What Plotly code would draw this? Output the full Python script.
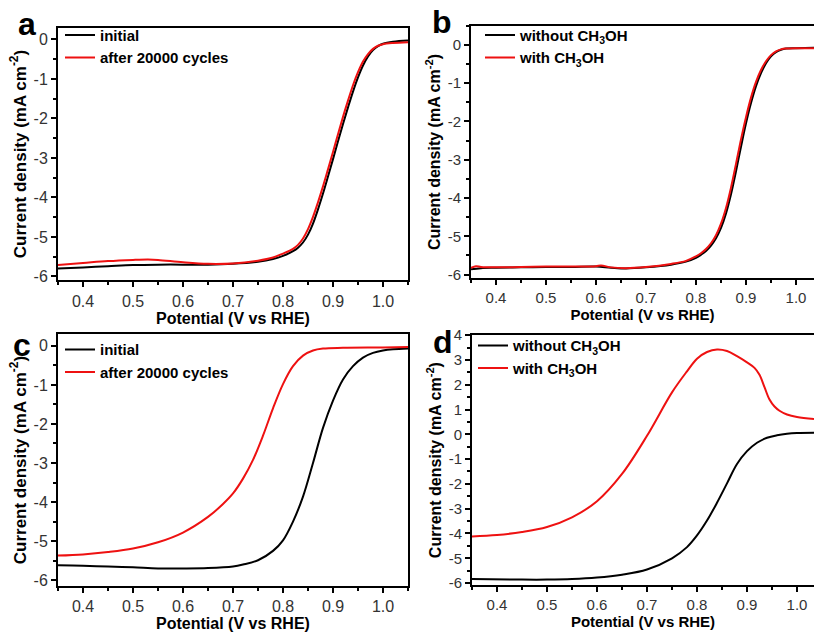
import plotly.graph_objects as go

# ---------------- data ----------------
# panel a
a_init_x = [0.35,0.40,0.45,0.50,0.55,0.60,0.65,0.70,0.75,0.78,0.80,0.82,0.83,0.84,0.85,0.86,0.87,0.88,0.89,0.90,0.91,0.92,0.93,0.94,0.95,0.96,0.97,0.98,0.99,1.00,1.02,1.05]
a_init_y = [-5.80,-5.77,-5.74,-5.71,-5.70,-5.70,-5.70,-5.68,-5.63,-5.56,-5.48,-5.36,-5.27,-5.14,-4.94,-4.66,-4.30,-3.90,-3.47,-3.03,-2.58,-2.14,-1.72,-1.32,-0.96,-0.66,-0.43,-0.27,-0.17,-0.11,-0.06,-0.03]
a_cyc_x = [0.35,0.40,0.45,0.50,0.53,0.55,0.60,0.65,0.70,0.75,0.78,0.80,0.82,0.83,0.84,0.85,0.86,0.87,0.88,0.89,0.90,0.91,0.92,0.93,0.94,0.95,0.96,0.97,0.98,0.99,1.00,1.02,1.05]
a_cyc_y = [-5.71,-5.66,-5.61,-5.58,-5.57,-5.58,-5.64,-5.68,-5.67,-5.60,-5.52,-5.42,-5.30,-5.20,-5.04,-4.80,-4.49,-4.12,-3.72,-3.29,-2.85,-2.40,-1.96,-1.55,-1.16,-0.83,-0.56,-0.37,-0.24,-0.16,-0.12,-0.09,-0.07]

# panel b
b_wo_x = [0.35,0.37,0.40,0.45,0.50,0.55,0.60,0.63,0.66,0.70,0.75,0.78,0.80,0.81,0.82,0.83,0.84,0.85,0.86,0.87,0.88,0.89,0.90,0.91,0.92,0.93,0.94,0.95,0.96,0.97,0.98,1.00,1.036]
b_wo_y = [-5.86,-5.83,-5.82,-5.81,-5.80,-5.80,-5.79,-5.82,-5.84,-5.81,-5.74,-5.66,-5.56,-5.48,-5.38,-5.24,-5.05,-4.78,-4.40,-3.90,-3.30,-2.66,-2.05,-1.52,-1.08,-0.74,-0.48,-0.30,-0.19,-0.13,-0.10,-0.09,-0.08]
b_w_x = [0.35,0.36,0.37,0.40,0.45,0.50,0.55,0.60,0.61,0.63,0.66,0.70,0.75,0.78,0.80,0.81,0.82,0.83,0.84,0.85,0.86,0.87,0.88,0.89,0.90,0.91,0.92,0.93,0.94,0.95,0.96,0.97,0.98,1.00,1.036]
b_w_y = [-5.82,-5.78,-5.80,-5.81,-5.80,-5.79,-5.79,-5.78,-5.76,-5.81,-5.83,-5.80,-5.72,-5.64,-5.52,-5.44,-5.33,-5.18,-4.97,-4.67,-4.26,-3.73,-3.11,-2.47,-1.89,-1.38,-0.97,-0.66,-0.43,-0.27,-0.17,-0.12,-0.10,-0.09,-0.09]

# panel c
c_init_x = [0.35,0.40,0.45,0.50,0.55,0.60,0.65,0.70,0.72,0.75,0.78,0.80,0.82,0.84,0.86,0.88,0.90,0.92,0.94,0.96,0.98,1.00,1.02,1.05]
c_init_y = [-5.62,-5.63,-5.65,-5.67,-5.70,-5.70,-5.69,-5.65,-5.60,-5.49,-5.25,-4.98,-4.50,-3.86,-3.00,-2.10,-1.40,-0.86,-0.52,-0.30,-0.18,-0.12,-0.09,-0.07]
c_cyc_x = [0.35,0.40,0.45,0.50,0.55,0.60,0.65,0.68,0.70,0.72,0.74,0.76,0.78,0.80,0.82,0.84,0.86,0.88,0.92,1.00,1.05]
c_cyc_y = [-5.37,-5.34,-5.28,-5.19,-5.03,-4.78,-4.38,-4.05,-3.78,-3.40,-2.92,-2.30,-1.60,-0.98,-0.52,-0.25,-0.12,-0.07,-0.05,-0.04,-0.03]

# panel d
d_wo_x = [0.35,0.45,0.50,0.55,0.60,0.65,0.70,0.75,0.78,0.80,0.82,0.84,0.86,0.88,0.90,0.92,0.94,0.96,0.98,1.00,1.034]
d_wo_y = [-5.84,-5.86,-5.86,-5.84,-5.78,-5.66,-5.45,-5.00,-4.55,-4.08,-3.48,-2.76,-1.98,-1.20,-0.68,-0.34,-0.14,-0.04,0.02,0.05,0.06]
d_w_x = [0.35,0.40,0.45,0.50,0.55,0.60,0.65,0.70,0.75,0.78,0.80,0.82,0.84,0.86,0.88,0.90,0.915,0.925,0.935,0.945,0.955,0.965,0.98,1.00,1.034]
d_w_y = [-4.12,-4.06,-3.94,-3.74,-3.35,-2.70,-1.60,-0.06,1.69,2.54,3.05,3.32,3.42,3.36,3.15,2.90,2.68,2.40,1.90,1.40,1.12,0.95,0.80,0.70,0.62]

x_ticks = [0.4, 0.5, 0.6, 0.7, 0.8, 0.9, 1.0]
x_tick_text = ["0.4", "0.5", "0.6", "0.7", "0.8", "0.9", "1.0"]
y_ticks_abc = [-6, -5, -4, -3, -2, -1, 0]
y_ticks_d = [-6, -5, -4, -3, -2, -1, 0, 1, 2, 3, 4]

legend_init = "initial"
legend_cyc = "after 20000 cycles"
legend_wo = "without CH<sub>3</sub>OH"
legend_w = "with CH<sub>3</sub>OH"
x_title = "Potential (V vs RHE)"
y_title = "Current density (mA cm<sup>-2</sup>)"

BLACK = "#000000"
RED = "#ee1111"
FONT = "Liberation Sans, Arial, sans-serif"
W, H = 814, 635

def px_x(p):
    return p / W

def px_y(p):
    return 1 - p / H

fig = go.Figure()

def add(x, y, name, color, xa, ya, leg):
    fig.add_trace(go.Scatter(x=x, y=y, name=name, mode="lines",
                             line=dict(color=color, width=2, shape="spline", smoothing=1.0),
                             xaxis=xa, yaxis=ya, legend=leg))

add(a_init_x, a_init_y, legend_init, BLACK, "x", "y", "legend")
add(a_cyc_x, a_cyc_y, legend_cyc, RED, "x", "y", "legend")
add(b_wo_x, b_wo_y, legend_wo, BLACK, "x2", "y2", "legend2")
add(b_w_x, b_w_y, legend_w, RED, "x2", "y2", "legend2")
add(c_init_x, c_init_y, legend_init, BLACK, "x3", "y3", "legend3")
add(c_cyc_x, c_cyc_y, legend_cyc, RED, "x3", "y3", "legend3")
add(d_wo_x, d_wo_y, legend_wo, BLACK, "x4", "y4", "legend4")
add(d_w_x, d_w_y, legend_w, RED, "x4", "y4", "legend4")

def xax(domain, rng, anchor, fs, tfs):
    return dict(domain=domain, range=rng, anchor=anchor, showline=True, linecolor="black",
                linewidth=2, mirror=True, ticks="outside", ticklen=5, tickwidth=2, tickcolor="black",
                tickvals=x_ticks, ticktext=x_tick_text, showgrid=False, zeroline=False,
                tickfont=dict(family=FONT, size=fs, color="#333333"),
                minor=dict(ticks="outside", ticklen=3, tickwidth=1.5, tickcolor="black", dtick=0.05, tick0=0.35),
                title=dict(text=x_title, font=dict(family=FONT, size=tfs, color="black", weight="bold"), standoff=2))

def yax(domain, rng, anchor, vals, fs, tfs, mirror):
    return dict(domain=domain, range=rng, anchor=anchor, showline=True, linecolor="black",
                linewidth=2, mirror=mirror, ticks="outside", ticklen=5, tickwidth=2, tickcolor="black",
                tickvals=vals, ticktext=[str(v) for v in vals], showgrid=False, zeroline=False,
                tickfont=dict(family=FONT, size=fs, color="#333333"),
                minor=dict(ticks="outside", ticklen=3, tickwidth=1.5, tickcolor="black", dtick=0.5, tick0=0),
                title=dict(text=y_title, font=dict(family=FONT, size=tfs, color="black", weight="bold"), standoff=3))

xa_dom = [px_x(58), px_x(408)]
xb_dom = [px_x(471), 1.0]
xd_dom = [px_x(472), 1.0]
ya_dom = [px_y(278), px_y(19)]
yb_dom = [px_y(276), px_y(17)]
yc_dom = [px_y(591), px_y(333)]
yd_dom = [px_y(590), px_y(334)]

def leg(xp, yp):
    return dict(x=px_x(xp), y=px_y(yp), xanchor="left", yanchor="top", bgcolor="rgba(0,0,0,0)",
                borderwidth=0, font=dict(family=FONT, size=15, color="black", weight="bold"),
                tracegroupgap=0, itemwidth=30)

fig.update_layout(
    width=W, height=H, margin=dict(l=0, r=0, t=0, b=0),
    paper_bgcolor="white", plot_bgcolor="white",
    xaxis=xax(xa_dom, [0.35, 1.05], "y", 16, 16),
    yaxis=yax(ya_dom, [-6.1, 0.3], "x", y_ticks_abc, 16, 17, True),
    xaxis2=xax(xb_dom, [0.35, 1.036], "y2", 15, 15),
    yaxis2=yax(yb_dom, [-6.1, 0.5], "x2", y_ticks_abc, 15, 16, False),
    xaxis3=xax(xa_dom, [0.35, 1.05], "y3", 16, 16),
    yaxis3=yax(yc_dom, [-6.15, 0.3], "x3", y_ticks_abc, 16, 17, True),
    xaxis4=xax(xd_dom, [0.35, 1.034], "y4", 15, 15),
    yaxis4=yax(yd_dom, [-6.08, 4.0], "x4", y_ticks_d, 15, 16, False),
    legend=leg(60, 10),
    legend2=leg(480, 10),
    legend3=leg(60, 332),
    legend4=leg(473, 328),
    showlegend=True,
)

labels = [("a", 27, 15), ("b", 442, 13), ("c", 22, 344), ("d", 443, 341)]
for t, xp, yp in labels:
    fig.add_annotation(text=t, x=px_x(xp), y=px_y(yp), xref="paper", yref="paper",
                       xanchor="center", yanchor="middle", showarrow=False,
                       font=dict(family=FONT, size=32, color="black", weight="bold"))

fig.write_html("out.html")
